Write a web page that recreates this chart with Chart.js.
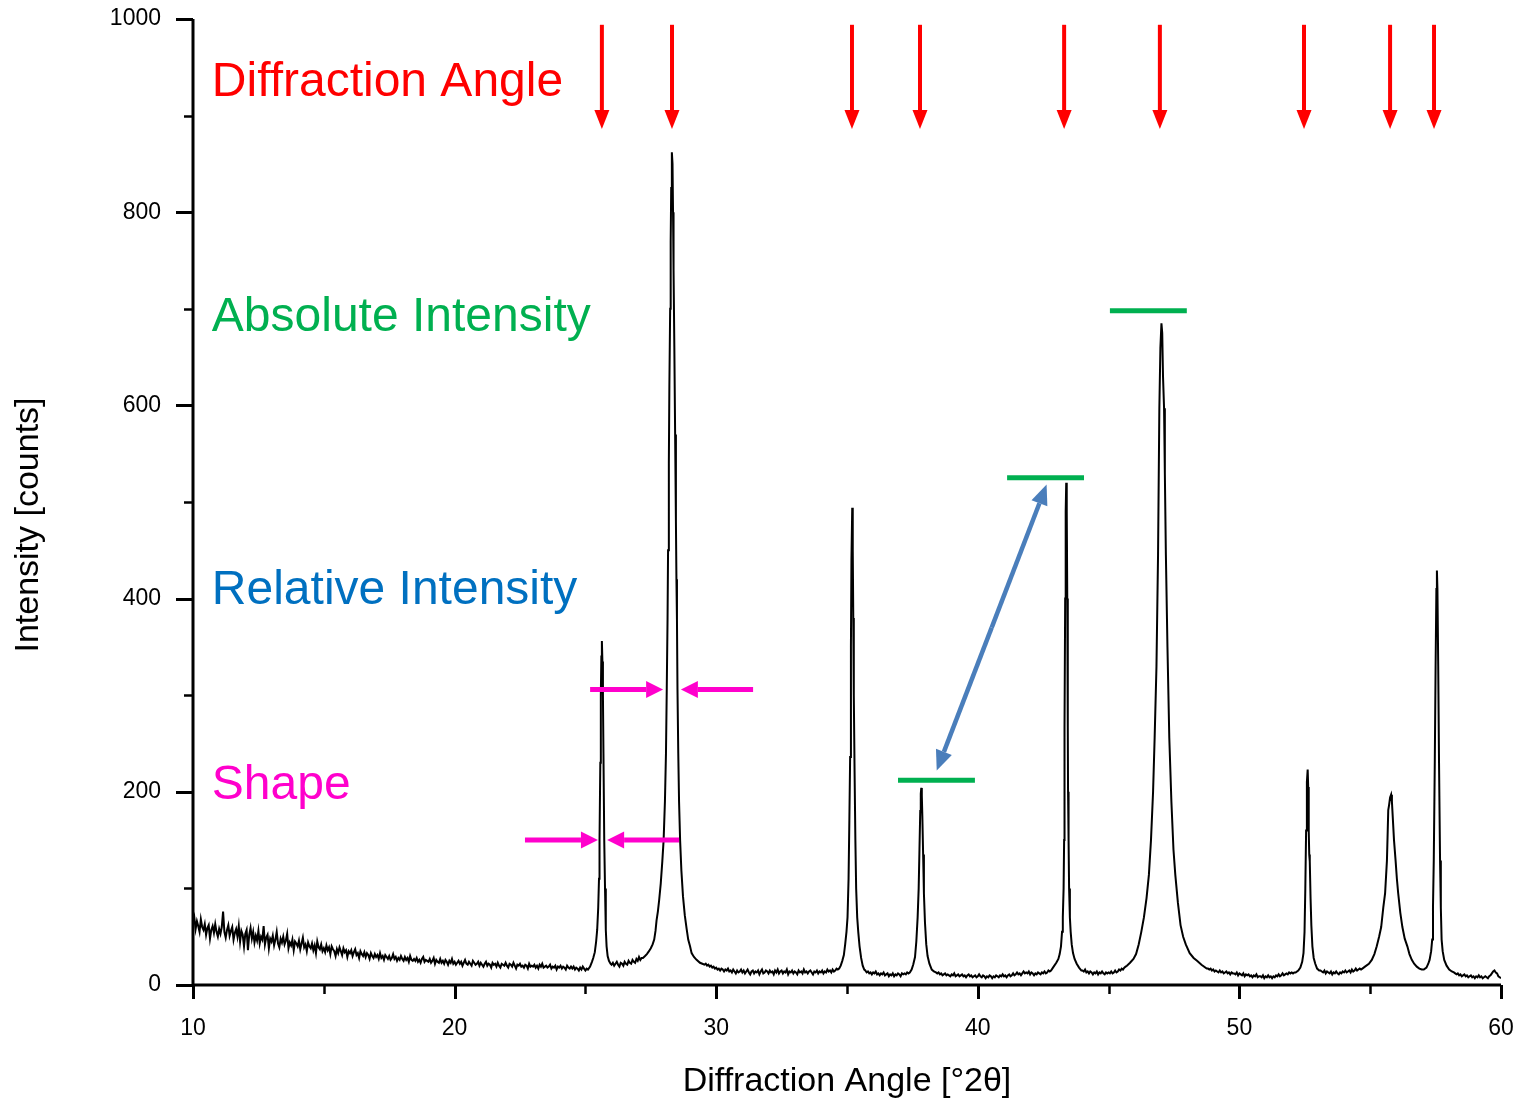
<!DOCTYPE html>
<html>
<head>
<meta charset="utf-8">
<title>Powder diffraction pattern</title>
<script src="https://cdn.jsdelivr.net/npm/chart.js@4.4.1/dist/chart.umd.min.js"></script>
<style>
  html, body { margin: 0; padding: 0; background: #ffffff; }
  #wrap { width: 1524px; height: 1104px; }
</style>
</head>
<body>
<div id="wrap"><canvas id="xrd" width="1524" height="1104"></canvas></div>
<script>
// ---- Measured pattern: background runs on a 0.05° grid ----
const bgStep = 0.05;

const bg10to25 = [
  64, 70, 58, 66, 61, 55, 68, 60, 57, 63,
  52, 59, 62, 48, 57, 61, 54, 63, 55, 50,
  58, 53, 60, 76, 55, 49, 57, 62, 51, 56,
  60, 47, 54, 58, 50, 61, 45, 56, 52, 40,
  53, 57, 36, 52, 59, 48, 55, 44, 51, 46,
  56, 43, 50, 47, 61, 42, 49, 52, 38, 48,
  45, 51, 41, 47, 55, 43, 39, 48, 44, 50,
  42, 46, 53, 38, 44, 41, 47, 36, 45, 43,
  40, 46, 37, 43, 49, 39, 42, 35, 44, 40,
  38, 43, 36, 41, 33, 45, 39, 37, 42, 35,
  38, 34, 41, 36, 39, 32, 40, 37, 35, 30,
  37, 33, 39, 35, 31, 38, 34, 36, 29, 35,
  33, 36, 30, 34, 37, 31, 33, 28, 35, 32,
  30, 34, 29, 33, 31, 27, 33, 30, 28, 32,
  29, 31, 27, 33, 28, 30, 26, 31, 29, 27,
  30, 26, 28, 32, 27, 29, 25, 28, 26, 30,
  27, 25, 29, 26, 28, 24, 30, 26, 25, 27,
  25, 28, 24, 26, 23, 27, 29, 24, 26, 25,
  24, 27, 23, 25, 28, 22, 26, 24, 23, 27,
  23, 25, 22, 26, 24, 21, 25, 23, 27, 22,
  24, 21, 23, 25, 22, 24, 20, 23, 26, 22,
  21, 24, 22, 20, 25, 23, 21, 22, 24, 20,
  23, 21, 19, 22, 24, 20, 22, 21, 18, 23,
  21, 22, 19, 23, 20, 18, 22, 21, 20, 23,
  20, 18, 22, 21, 19, 23, 20, 17, 21, 20,
  22, 19, 20, 18, 21, 20, 17, 22, 19, 20,
  19, 21, 18, 20, 17, 21, 19, 22, 18, 19,
  20, 18, 19, 21, 17, 19, 18, 20, 16, 19,
  18, 20, 17, 19, 18, 16, 20, 18, 17, 19,
  17, 19, 16, 18, 17, 15, 18, 16, 19, 17,
  15, 17
];
const bg26to27 = [21, 23, 20, 22, 24, 21, 19, 23, 22, 20, 24, 22, 21, 25, 23, 22, 26, 24, 23, 27, 25, 29, 26, 28];
const bg30to34 = [
  22, 20, 21, 19, 20, 18, 19, 17,
  18, 16, 17, 15, 17, 16, 14, 16, 15, 17,
  14, 15, 13, 16, 14, 12, 15, 13, 14, 16,
  13, 15, 12, 14, 16, 13, 11, 14, 15, 12,
  14, 13, 15, 11, 14, 16, 12, 13, 15, 14,
  12, 15, 13, 14, 11, 15, 13, 16, 12, 14,
  15, 12, 14, 13, 16, 11, 14, 13, 15, 12,
  14, 13, 11, 15, 13, 14, 12, 16, 13, 14,
  12, 14, 15, 13, 11, 14, 13, 15, 12, 14,
  13, 15, 12, 14, 13, 16, 14, 15, 13, 16,
  14, 15, 17, 16
];
const bg36to37 = [
  15, 13, 14, 12, 13, 11, 13, 12, 14, 11,
  12, 10, 12, 11, 13, 10, 11, 12, 9, 11,
  10, 12, 9, 11, 10, 12, 11, 9, 12, 11,
  12, 11, 13, 12
];
const bg38to42 = [
  13, 12, 13, 11, 12, 10, 11, 12, 10, 11,
  10, 9, 11, 10, 12, 9, 10, 11, 9, 10,
  11, 9, 10, 8, 10, 11, 9, 10, 8, 9,
  10, 8, 9, 11, 9, 8, 10, 9, 7, 9,
  8, 10, 9, 7, 9, 8, 10, 9, 8, 10,
  9, 11, 9, 10, 8, 10, 11, 9, 10, 12,
  10, 11, 13, 11, 12, 10, 12, 14, 12, 13,
  12, 14, 11, 13, 12, 10, 12, 11, 13, 12,
  11, 13, 12, 14, 12, 13, 15, 14
];
const bg44to45 = [
  15, 14, 16, 13, 14, 12, 14, 13, 11, 13,
  12, 14, 11, 13, 12, 14, 12, 11, 13, 12,
  13, 12, 14, 12, 13, 15, 13, 14, 16, 15,
  17, 16, 18, 19
];
const bg49to52 = [
  17, 16, 17, 15, 16, 14, 15, 14, 13, 15,
  13, 14, 12, 13, 14, 12, 13, 11, 13, 12,
  12, 11, 13, 10, 12, 11, 10, 12, 9, 11,
  10, 11, 9, 10, 8, 10, 9, 11, 8, 9,
  9, 8, 10, 7, 9, 8, 10, 8, 9, 7,
  9, 8, 10, 9, 11, 9, 10, 12, 10, 11,
  12, 11, 13, 12, 13, 12, 13
];
const bg53to54 = [
  15, 14, 13, 15, 12, 14, 13, 12, 14, 11,
  13, 12, 14, 12, 11, 13, 12, 14, 13, 15,
  13, 14, 15, 13, 16, 14, 15, 17, 15, 16,
  17, 16
];
const bg58to60 = [
  13, 12, 11, 12, 10, 11, 9, 10, 11, 9,
  10, 8, 9, 10, 8, 9, 7, 9, 8, 10,
  8, 9, 7, 8, 9, 8, 7, 9, 10, 12,
  14, 15, 13, 12, 9, 8, 7
];
const backgroundRuns = [
  [10.00, bg10to25], [26.00, bg26to27], [29.60, bg30to34], [35.70, bg36to37],
  [38.40, bg38to42], [44.00, bg44to45], [48.80, bg49to52], [53.10, bg53to54],
  [58.20, bg58to60]
];

// ---- Measured pattern: reflections as [2θ, counts] ----
const peak25_6 = [[25.10,16],[25.18,19],[25.25,24],[25.30,28],[25.36,34],[25.41,45],[25.45,57],[25.49,80],[25.52,110],[25.54,150],[25.57,230],[25.59,300],[25.61,340],[25.63,356],[25.65,335],[25.67,300],[25.69,240],[25.72,150],[25.75,100],[25.78,57],[25.81,40],[25.85,30],[25.90,25],[25.96,22]];
const peak28_3 = [[27.20,28],[27.28,30],[27.35,32],[27.43,35],[27.50,38],[27.57,42],[27.63,47],[27.68,56],[27.72,67],[27.77,76],[27.82,88],[27.88,105],[27.94,128],[27.99,150],[28.04,190],[28.08,240],[28.11,306],[28.14,378],[28.16,450],[28.19,540],[28.21,620],[28.24,700],[28.26,770],[28.28,825],[28.30,855],[28.31,862],[28.33,850],[28.35,800],[28.37,740],[28.40,660],[28.43,570],[28.46,480],[28.48,420],[28.50,378],[28.52,306],[28.55,240],[28.58,190],[28.62,150],[28.67,118],[28.73,92],[28.80,72],[28.87,58],[28.93,47],[29.00,40],[29.06,33],[29.15,29],[29.25,26],[29.38,23],[29.47,22],[29.55,21]];
const peak35_2 = [[34.70,17],[34.76,20],[34.82,25],[34.88,31],[34.93,42],[34.98,55],[35.02,70],[35.06,110],[35.09,170],[35.12,236],[35.15,350],[35.17,440],[35.20,494],[35.22,450],[35.24,380],[35.26,300],[35.29,220],[35.32,150],[35.35,100],[35.39,70],[35.43,55],[35.48,40],[35.54,28],[35.60,20],[35.66,16]];
const peak37_8 = [[37.40,13],[37.47,16],[37.53,21],[37.60,29],[37.65,45],[37.70,70],[37.74,100],[37.77,140],[37.80,180],[37.82,198],[37.84,204],[37.86,196],[37.88,175],[37.91,135],[37.94,95],[37.98,65],[38.03,42],[38.08,30],[38.15,22],[38.24,16],[38.32,14]];
const peak43_4 = [[42.80,15],[42.90,19],[43.00,23],[43.08,27],[43.13,32],[43.18,40],[43.22,55],[43.25,70],[43.28,100],[43.30,150],[43.31,200],[43.32,267],[43.34,400],[43.36,490],[43.38,520],[43.40,490],[43.42,400],[43.44,267],[43.45,200],[43.47,150],[43.49,100],[43.52,70],[43.55,55],[43.59,42],[43.64,33],[43.70,27],[43.78,22],[43.87,18],[43.96,15]];
const peak47_0 = [[45.70,20],[45.82,23],[45.95,27],[46.05,32],[46.15,42],[46.25,55],[46.35,70],[46.45,90],[46.54,114],[46.62,150],[46.70,200],[46.76,256],[46.83,330],[46.89,445],[46.94,597],[46.98,660],[47.02,685],[47.05,675],[47.08,630],[47.12,597],[47.15,530],[47.19,445],[47.25,350],[47.32,256],[47.40,190],[47.48,140],[47.55,114],[47.65,85],[47.75,62],[47.85,50],[47.95,42],[48.10,33],[48.25,28],[48.38,25],[48.55,21],[48.75,17]];
const peak52_6 = [[52.15,13],[52.25,15],[52.33,18],[52.40,24],[52.45,33],[52.49,55],[52.52,100],[52.55,160],[52.58,210],[52.61,223],[52.63,205],[52.65,160],[52.67,135],[52.69,128],[52.72,90],[52.75,62],[52.79,40],[52.84,28],[52.90,22],[52.97,17],[53.05,15]];
const peak55_8 = [[54.70,17],[54.80,19],[54.95,22],[55.06,26],[55.16,32],[55.25,40],[55.34,50],[55.42,60],[55.50,80],[55.57,95],[55.64,129],[55.67,160],[55.69,181],[55.72,186],[55.76,194],[55.80,197],[55.83,190],[55.86,175],[55.91,150],[55.97,129],[56.02,110],[56.07,95],[56.15,75],[56.23,60],[56.32,48],[56.42,40],[56.50,32],[56.59,26],[56.68,22],[56.78,19],[56.88,17],[56.97,16]];
const peak57_5 = [[57.05,16],[57.15,18],[57.22,22],[57.27,26],[57.33,35],[57.37,47],[57.40,80],[57.43,129],[57.47,233],[57.50,330],[57.53,410],[57.55,429],[57.57,410],[57.60,330],[57.63,233],[57.67,129],[57.70,80],[57.73,47],[57.77,35],[57.83,26],[57.92,20],[58.02,16],[58.12,14]];
const peakProfiles = [peak25_6, peak28_3, peak35_2, peak37_8, peak43_4, peak47_0, peak52_6, peak55_8, peak57_5];

// ---- Axes ----
const yTickValues = [0, 100, 200, 300, 400, 500, 600, 700, 800, 900, 1000];
const yTickLabels = ['0', '', '200', '', '400', '', '600', '', '800', '', '1000'];
const xTickValues = [10, 15, 20, 25, 30, 35, 40, 45, 50, 55, 60];
const xTickLabels = ['10', '', '20', '', '30', '', '40', '', '50', '', '60'];
const xTitle = 'Diffraction Angle [°2θ]';
const yTitle = 'Intensity [counts]';

// ---- Annotations ----
const markedAngles = [25.63, 28.31, 35.19, 37.79, 43.30, 46.96, 52.47, 55.76, 57.44];
const markerTop = 994, markerTip = 886;
const absoluteLevels = [[36.95, 39.89, 212], [41.12, 44.06, 525], [45.05, 47.99, 698]];
const relativeArrow = [[38.43, 222], [42.63, 518]];
const shapeArrows = [
  [[25.18, 306], [27.97, 306]], [[31.41, 306], [28.65, 306]],
  [[22.69, 150], [25.48, 150]], [[28.58, 150], [25.83, 150]]
];
const captions = [
  ['Diffraction Angle', 920, '#FF0000'],
  ['Absolute Intensity', 677, '#00B050'],
  ['Relative Intensity', 394, '#0070C0'],
  ['Shape', 193, '#FF00CC']
];
const captionAngle = 10.72;

const FONT = '"Liberation Sans", Arial, Helvetica, sans-serif';

// assemble the trace
const trace = [];
backgroundRuns.forEach(([start, counts]) => {
  counts.forEach((c, i) => trace.push({ x: +(start + i * bgStep).toFixed(2), y: c }));
});
peakProfiles.forEach(p => p.forEach(([a, c]) => trace.push({ x: a, y: c })));
trace.sort((p, q) => p.x - q.x);

function arrow(ctx, x1, y1, x2, y2, color, lw, headLen, headW) {
  const ang = Math.atan2(y2 - y1, x2 - x1);
  const bx = x2 - Math.cos(ang) * headLen, by = y2 - Math.sin(ang) * headLen;
  ctx.strokeStyle = color; ctx.fillStyle = color; ctx.lineWidth = lw; ctx.lineCap = 'butt';
  ctx.beginPath(); ctx.moveTo(x1, y1); ctx.lineTo(bx, by); ctx.stroke();
  const nx = -Math.sin(ang) * headW / 2, ny = Math.cos(ang) * headW / 2;
  ctx.beginPath(); ctx.moveTo(x2, y2); ctx.lineTo(bx + nx, by + ny); ctx.lineTo(bx - nx, by - ny); ctx.closePath(); ctx.fill();
}

function doubleArrow(ctx, x1, y1, x2, y2, color, lw, headLen, headW) {
  const mx = (x1 + x2) / 2, my = (y1 + y2) / 2;
  arrow(ctx, mx, my, x1, y1, color, lw, headLen, headW);
  arrow(ctx, mx, my, x2, y2, color, lw, headLen, headW);
}

// keep the plot frame fixed: no extra room for overhanging tick labels
function noOverhang(s) {
  s.paddingTop = 0; s.paddingBottom = 0; s.paddingLeft = 0; s.paddingRight = 0;
}

const decor = {
  id: 'decor',
  afterDatasetsDraw(chart) {
    const { ctx, chartArea: a, scales: { x, y } } = chart;
    ctx.save();

    // axis lines
    ctx.strokeStyle = '#000'; ctx.lineWidth = 3; ctx.lineCap = 'butt';
    ctx.beginPath();
    ctx.moveTo(a.left, a.top); ctx.lineTo(a.left, a.bottom + 1.5);
    ctx.moveTo(a.left - 1.5, a.bottom); ctx.lineTo(a.right, a.bottom);
    ctx.stroke();

    // tick marks
    yTickValues.forEach((v, i) => {
      const py = Math.round(y.getPixelForValue(v)) + 0.5;
      const major = yTickLabels[i] !== '';
      ctx.lineWidth = major ? 3 : 2.5;
      ctx.beginPath(); ctx.moveTo(a.left - (major ? 17 : 9), py); ctx.lineTo(a.left, py); ctx.stroke();
    });
    xTickValues.forEach((v, i) => {
      const px = Math.round(x.getPixelForValue(v)) + 0.5;
      const major = xTickLabels[i] !== '';
      ctx.lineWidth = major ? 3 : 2.5;
      ctx.beginPath(); ctx.moveTo(px, a.bottom); ctx.lineTo(px, a.bottom + (major ? 14 : 9)); ctx.stroke();
    });

    // axis titles
    ctx.fillStyle = '#000';
    ctx.font = '34px ' + FONT;
    ctx.textAlign = 'center'; ctx.textBaseline = 'middle';
    ctx.fillText(xTitle, (a.left + a.right) / 2, 1082);
    ctx.save();
    ctx.translate(29, 525); ctx.rotate(-Math.PI / 2);
    ctx.fillText(yTitle, 0, 0);
    ctx.restore();

    // captions
    ctx.font = '48px ' + FONT;
    ctx.textAlign = 'left'; ctx.textBaseline = 'alphabetic';
    captions.forEach(([t, v, c]) => {
      ctx.fillStyle = c;
      ctx.fillText(t, x.getPixelForValue(captionAngle), y.getPixelForValue(v));
    });

    // diffraction angle markers
    markedAngles.forEach(v => {
      const px = x.getPixelForValue(v);
      arrow(ctx, px, y.getPixelForValue(markerTop), px, y.getPixelForValue(markerTip), '#FF0000', 4, 19, 15);
    });

    // absolute intensity levels
    ctx.strokeStyle = '#00B050'; ctx.lineWidth = 5; ctx.lineCap = 'butt';
    absoluteLevels.forEach(([x0, x1, v]) => {
      const py = y.getPixelForValue(v);
      ctx.beginPath(); ctx.moveTo(x.getPixelForValue(x0), py); ctx.lineTo(x.getPixelForValue(x1), py); ctx.stroke();
    });

    // relative intensity
    doubleArrow(ctx,
      x.getPixelForValue(relativeArrow[0][0]), y.getPixelForValue(relativeArrow[0][1]),
      x.getPixelForValue(relativeArrow[1][0]), y.getPixelForValue(relativeArrow[1][1]),
      '#4A7EBB', 4.5, 20, 17);

    // peak shape (width) arrows
    shapeArrows.forEach(([[x0, v0], [x1, v1]]) => {
      arrow(ctx, x.getPixelForValue(x0), y.getPixelForValue(v0), x.getPixelForValue(x1), y.getPixelForValue(v1), '#FF00CC', 5, 17, 17);
    });

    ctx.restore();
  }
};

new Chart(document.getElementById('xrd'), {
  type: 'scatter',
  data: {
    datasets: [{
      data: trace,
      showLine: true,
      borderColor: '#000000',
      borderWidth: 2,
      pointRadius: 0,
      pointHoverRadius: 0,
      tension: 0,
      fill: false
    }]
  },
  options: {
    responsive: false,
    animation: false,
    devicePixelRatio: 1,
    layout: { padding: { top: 19, right: 23, left: 0, bottom: 0 } },
    plugins: { legend: { display: false }, tooltip: { enabled: false } },
    scales: {
      x: {
        type: 'linear', min: 10, max: 60,
        grid: { display: false, drawTicks: false },
        border: { display: false },
        afterFit: s => { s.height = 119; noOverhang(s); },
        ticks: {
          stepSize: 10, padding: 30, color: '#000', maxRotation: 0,
          font: { family: FONT, size: 23 },
          callback: v => xTickLabels[xTickValues.indexOf(v)] ?? ''
        }
      },
      y: {
        type: 'linear', min: 0, max: 1000,
        grid: { display: false, drawTicks: false },
        border: { display: false },
        afterFit: s => { s.width = 193; noOverhang(s); },
        ticks: {
          stepSize: 200, padding: 32, color: '#000',
          font: { family: FONT, size: 23 },
          callback: v => yTickLabels[yTickValues.indexOf(v)] ?? ''
        }
      }
    }
  },
  plugins: [decor]
});
</script>
</body>
</html>
